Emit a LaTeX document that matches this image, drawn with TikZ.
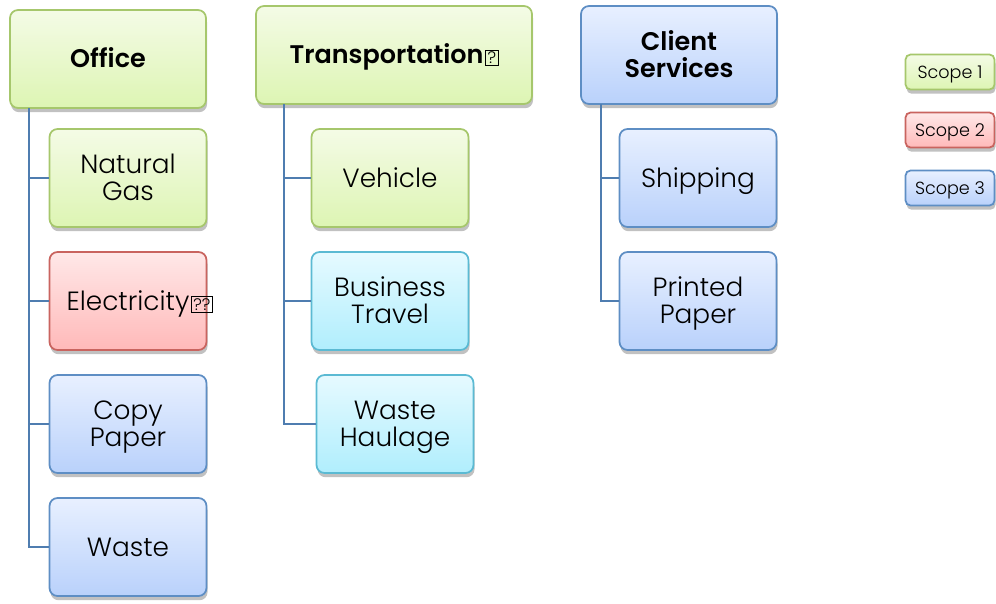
\documentclass[tikz,border=0pt]{standalone}
\usepackage{fontspec}
\setmainfont{Poppins}[UprightFont=* Light,BoldFont=* SemiBold]
\usetikzlibrary{shadows}
\definecolor{grnline}{HTML}{A6C76C}
\definecolor{grntop}{HTML}{F4FBE6}
\definecolor{grnbot}{HTML}{DDF5B3}
\definecolor{redline}{HTML}{C9645F}
\definecolor{redtop}{HTML}{FFE8E8}
\definecolor{redbot}{HTML}{FFB9B9}
\definecolor{bluline}{HTML}{5E8EC4}
\definecolor{blutop}{HTML}{E8F0FF}
\definecolor{blubot}{HTML}{B9D1FB}
\definecolor{cyaline}{HTML}{5BBAD3}
\definecolor{cyatop}{HTML}{E6FAFF}
\definecolor{cyabot}{HTML}{B0EEFD}
\definecolor{linkc}{HTML}{4F7DB0}
\newcommand{\tofu}[1][?]{{\fboxsep=0.8pt\fboxrule=0.5pt\kern1pt\fbox{\normalfont\fontsize{9.5}{9.5}\selectfont #1}}}
\begin{document}
\begin{tikzpicture}[x=0.02cm,y=-0.02cm,
  box/.style={rounded corners=0.16cm,line width=1pt,align=center,inner xsep=0pt,
    minimum width=3.14cm,minimum height=1.96cm,font=\fontsize{15}{15.2}\selectfont,
    text height=10.5pt,text depth=0pt,
    drop shadow={shadow xshift=0.6pt,shadow yshift=-2.4pt,opacity=0.35,fill=black!70}},
  pair/.style={text height=25.7pt}, % two lines of text
  head/.style={box,minimum width=3.92cm,font=\bfseries\fontsize{14.5}{15.6}\selectfont,
    text height=10.2pt},
  tag/.style={box,rounded corners=0.1cm,minimum width=1.78cm,minimum height=0.7cm,
    font=\fontsize{10}{11}\selectfont,text height=7pt},
  sone/.style={draw=grnline,top color=grntop,bottom color=grnbot},
  stwo/.style={draw=redline,top color=redtop,bottom color=redbot},
  sthree/.style={draw=bluline,top color=blutop,bottom color=blubot},
  travel/.style={draw=cyaline,top color=cyatop,bottom color=cyabot},
  link/.style={draw=linkc,line width=1.2pt}]
\useasboundingbox (0,0) rectangle (996,603);

% heads
\node[head,sone] (office) at (108,59) {Office};
\node[head,sone,minimum width=5.52cm] (transport) at (394,55) {Transportation\tofu};
\node[head,pair,sthree] (client) at (679,55) {Client\\Services};

% office column
\node[box,pair,sone] (gas) at (128,178) {Natural\\Gas};
\node[box,stwo] (elec) at (128,301) {Electricity\rlap{\tofu[??]}};
\node[box,pair,sthree] (copy) at (128,424) {Copy\\Paper};
\node[box,sthree] (waste) at (128,547) {Waste};

% transportation column
\node[box,sone] (vehicle) at (390,178) {Vehicle};
\node[box,pair,travel] (travel) at (390,301) {Business\\Travel};
\node[box,pair,travel] (haulage) at (395,424) {Waste\\Haulage};

% client column
\node[box,sthree] (shipping) at (698,178) {Shipping};
\node[box,pair,sthree] (printed) at (698,301) {Printed\\Paper};

% legend
\node[tag,sone] (scope1) at (950,72) {Scope 1};
\node[tag,stwo] (scope2) at (950,130) {Scope 2};
\node[tag,sthree] (scope3) at (950,188) {Scope 3};

% trunks
\coordinate (officetrunk) at (29,108);
\coordinate (transtrunk) at (284,104);
\coordinate (clienttrunk) at (601,104);
\foreach \n in {gas,elec,copy,waste}
  \draw[link] (officetrunk) |- (\n.west);
\foreach \n in {vehicle,travel,haulage}
  \draw[link] (transtrunk) |- (\n.west);
\foreach \n in {shipping,printed}
  \draw[link] (clienttrunk) |- (\n.west);
\end{tikzpicture}
\end{document}
